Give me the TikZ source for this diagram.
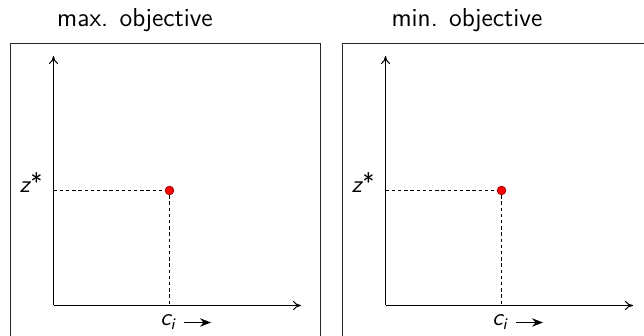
\documentclass[tikz,border=0pt]{standalone}
\usepackage{fontspec}
\usetikzlibrary{arrows.meta}
\begin{document}
\begin{tikzpicture}[x=0.5pt,y=-0.5pt,
  frame/.style={draw=black!85,line width=0.5pt},
  axis/.style={line width=0.5pt,-{To[length=4pt,width=4.5pt]}},
  guide/.style={line width=0.5pt,dash pattern=on 1.7pt off 1.4pt},
  optpt/.style={circle,fill=red,draw=red!55!black,line width=0.3pt,inner sep=0pt,minimum size=4.4pt},
  lbl/.style={font=\fontsize{12}{14}\selectfont\sffamily\itshape,inner sep=0pt},
  ttl/.style={font=\fontsize{13}{15}\selectfont\sffamily,inner sep=0pt}]
\useasboundingbox (0,0) rectangle (644,336);
\begin{scope}
\clip (0,0) rectangle (644,336);
\foreach \s/\t/\n in {0/max. objective/a,332/min. objective/b}{
  \begin{scope}[xshift=\s*0.5pt]
    \node[ttl] (title\n) at (135,20) {\t};
    \draw[frame] (10.5,350) -- (10.5,43.5) -- (320.5,43.5) -- (320.5,350);
    \coordinate (o\n) at (53.5,305.5);
    \coordinate (ytop\n) at (53.5,56);
    \coordinate (xend\n) at (301,305.5);
    \coordinate (yz\n) at (53.5,190.5);
    \coordinate (xc\n) at (169.5,305.5);
    \draw[axis] (o\n) -- (ytop\n);
    \draw[axis] (o\n) -- (xend\n);
    \node[optpt] (p\n) at (169.5,190.5) {};
    \draw[guide] (yz\n) -- (p\n.west);
    \draw[guide] (p\n.south) -- (xc\n);
    \node[lbl,anchor=base] (z\n) at (31,193) {z\kern0.5pt\raisebox{1pt}{\upshape *}};
    \node[lbl,anchor=base] (c\n) at (168,326) {c\textsubscript{i}};
    \coordinate (ca\n) at (184,322.5);
    \coordinate (cb\n) at (211,322.5);
    \draw[line width=0.6pt,-{Stealth[length=5.5pt,width=4.2pt]}] (ca\n) -- (cb\n);
  \end{scope}
}
\end{scope}
\end{tikzpicture}
\end{document}
